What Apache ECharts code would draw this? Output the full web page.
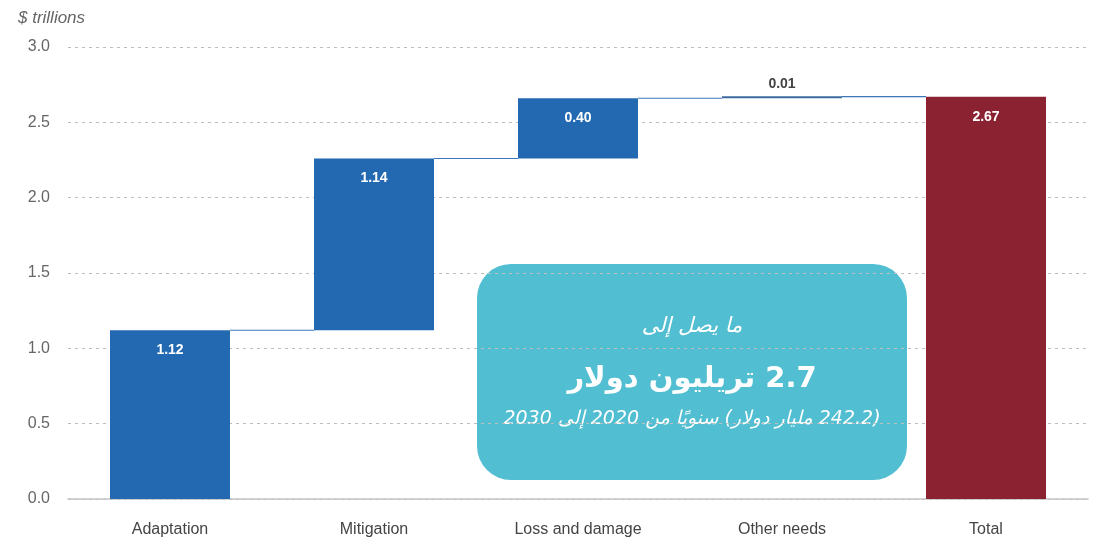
<!DOCTYPE html>
<html>
<head>
    <meta charset="utf-8">
    <title>Climate finance needs</title>
    <script src="https://cdn.jsdelivr.net/npm/echarts@6/dist/echarts.min.js"></script>
    <style>
        html, body { margin: 0; padding: 0; background: #fff; }
        #chart1 { width: 1097px; height: 544px; }
    </style>
</head>
<body>
<div id="chart1"></div>
<script type="text/javascript">
    // data
    var categories = ['Adaptation', 'Mitigation', 'Loss and damage', 'Other needs', 'Total'];
    var values = [1.12, 1.14, 0.40, 0.01, 2.67];
    var labels = ['1.12', '1.14', '0.40', '0.01', '2.67'];
    var yTicks = [0, 0.5, 1.0, 1.5, 2.0, 2.5, 3.0];

    // invisible base of each step = running total before it (total starts at 0)
    var bases = [];
    var tops = [];
    var run = 0;
    for (var i = 0; i < values.length; i++) {
        if (i === values.length - 1) {
            bases.push(0);
        } else {
            bases.push(run);
            run += values[i];
        }
        tops.push(bases[i] + values[i]);
    }
    var connectors = [];
    for (var j = 0; j < values.length - 1; j++) {
        connectors.push([j, tops[j]]);
    }

    var blue = '#2369b2';
    var red = '#8b2231';

    var myChart1 = echarts.init(document.getElementById('chart1'));

    myChart1.setOption({
        animation: false,
        title: {
            text: '$ trillions',
            left: 13,
            top: 5,
            textStyle: {
                fontFamily: 'Liberation Sans',
                fontStyle: 'italic',
                fontWeight: 'normal',
                fontSize: 17,
                color: '#666'
            }
        },
        grid: { left: 68, right: 9, top: 47, bottom: 45 },
        xAxis: {
            type: 'category',
            data: categories,
            axisTick: { show: false },
            axisLine: { lineStyle: { color: '#c4c4c4', width: 1.5 } },
            axisLabel: {
                margin: 23,
                fontFamily: 'Liberation Sans',
                fontSize: 16,
                color: '#444'
            }
        },
        yAxis: {
            type: 'value',
            min: yTicks[0],
            max: yTicks[yTicks.length - 1],
            interval: 0.5,
            axisLabel: {
                margin: 18,
                fontFamily: 'Liberation Sans',
                fontSize: 16,
                color: '#666',
                formatter: function (v) { return v.toFixed(1); }
            },
            splitLine: { lineStyle: { color: '#bdbdbd', type: [3, 4], width: 1.2 } }
        },
        series: [
            {
                type: 'bar',
                stack: 'w',
                barWidth: 120,
                itemStyle: { color: 'transparent' },
                data: bases,
                silent: true
            },
            {
                type: 'bar',
                stack: 'w',
                barWidth: 120,
                barMinHeight: 2,
                data: values.map(function (v, k) {
                    var small = v < 0.05;
                    return {
                        value: v,
                        itemStyle: { color: k === values.length - 1 ? red : (small ? '#3b6a9e' : blue) },
                        label: small ? {
                            position: 'top',
                            distance: 5,
                            color: '#444'
                        } : {}
                    };
                }),
                label: {
                    show: true,
                    position: 'insideTop',
                    distance: 13,
                    fontFamily: 'Liberation Sans',
                    fontWeight: 'bold',
                    fontSize: 14,
                    color: '#fff',
                    formatter: function (p) { return labels[p.dataIndex]; }
                },
                z: 3
            },
            {
                type: 'custom',
                data: connectors,
                z: 2,
                renderItem: function (params, api) {
                    var k = api.value(0);
                    var v = api.value(1);
                    var p1 = api.coord([k, v]);
                    var p2 = api.coord([k + 1, v]);
                    return {
                        type: 'line',
                        shape: { x1: p1[0] + 60, y1: p1[1], x2: p2[0] - 60, y2: p2[1] },
                        style: { stroke: '#3d76bb', lineWidth: 1.2 }
                    };
                }
            }
        ],
        graphic: [
            {
                type: 'group',
                left: 477,
                top: 264,
                z: 100,
                children: [
                    {
                        type: 'rect',
                        shape: { x: 0, y: 0, width: 430, height: 216, r: 34 },
                        style: { fill: '#52bed2' }
                    },
                    {
                        type: 'text',
                        x: 215,
                        y: 63,
                        style: {
                            text: '\u202Bما يصل إلى\u202C',
                            align: 'center',
                            verticalAlign: 'middle',
                            fill: '#fff',
                            fontStyle: 'italic',
                            fontSize: 21,
                            fontFamily: 'DejaVu Sans'
                        }
                    },
                    {
                        type: 'text',
                        x: 215,
                        y: 115,
                        style: {
                            text: '\u202B2.7 تريليون دولار\u202C',
                            align: 'center',
                            verticalAlign: 'middle',
                            fill: '#fff',
                            fontWeight: 'bold',
                            fontSize: 29,
                            fontFamily: 'DejaVu Sans'
                        }
                    },
                    {
                        type: 'text',
                        x: 215,
                        y: 155,
                        style: {
                            text: '\u202B(242.2 مليار دولار) سنويًا من 2020 إلى 2030\u202C',
                            align: 'center',
                            verticalAlign: 'middle',
                            fill: '#fff',
                            fontStyle: 'italic',
                            fontSize: 19,
                            fontFamily: 'DejaVu Sans'
                        }
                    }
                ]
            }
        ]
    });
</script>
</body>
</html>
